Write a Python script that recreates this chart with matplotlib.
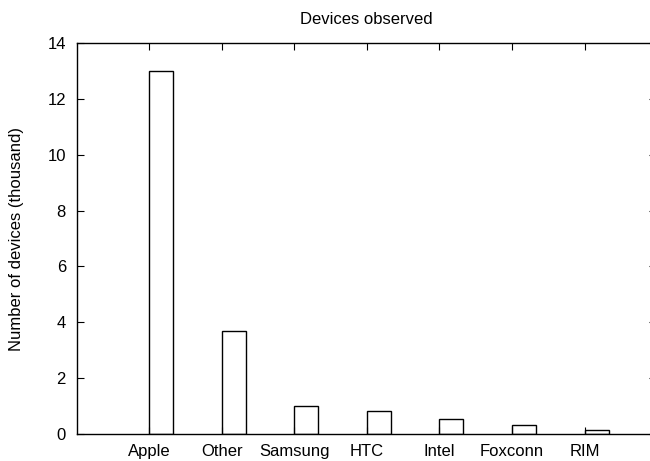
import matplotlib
matplotlib.use("Agg")
import matplotlib.pyplot as plt

categories = ["Apple", "Other", "Samsung", "HTC", "Intel", "Foxconn", "RIM"]
devices_thousand = [13.0, 3.7, 1.0, 0.81, 0.54, 0.31, 0.15]
yticks = [0, 2, 4, 6, 8, 10, 12, 14]

plt.rcParams['font.family'] = ['Liberation Sans', 'DejaVu Sans']

W, H = 650, 461
fig = plt.figure(figsize=(W / 100, H / 100), dpi=100)
left, right, bottom, top = 77, 656, 434, 43
ax = fig.add_axes([left / W, 1 - bottom / H, (right - left) / W, (bottom - top) / H])

x = list(range(len(categories)))
ax.bar(x, devices_thousand, width=0.33, align='edge', facecolor='white',
       edgecolor='black', linewidth=1.0)

scale = 72.6  # px per category
ax.set_xlim(-(149 - left) / scale, (right - 149) / scale)
ax.set_ylim(0, 14)
ax.set_yticks(yticks)
ax.set_yticklabels([str(v) for v in yticks])
ax.set_xticks(x)
ax.set_xticklabels(categories)
ax.tick_params(axis='both', direction='in', length=5, width=0.8, labelsize=12,
               top=True, right=True, colors='black')
ax.tick_params(axis='y', pad=8)
ax.tick_params(axis='x', pad=7)
for s in ax.spines.values():
    s.set_linewidth(1.0)

ax.set_title("Devices observed", fontsize=12, pad=14)
ax.set_ylabel("Number of devices (thousand)", fontsize=12, labelpad=17)

fig.savefig("out.png", dpi=100)
